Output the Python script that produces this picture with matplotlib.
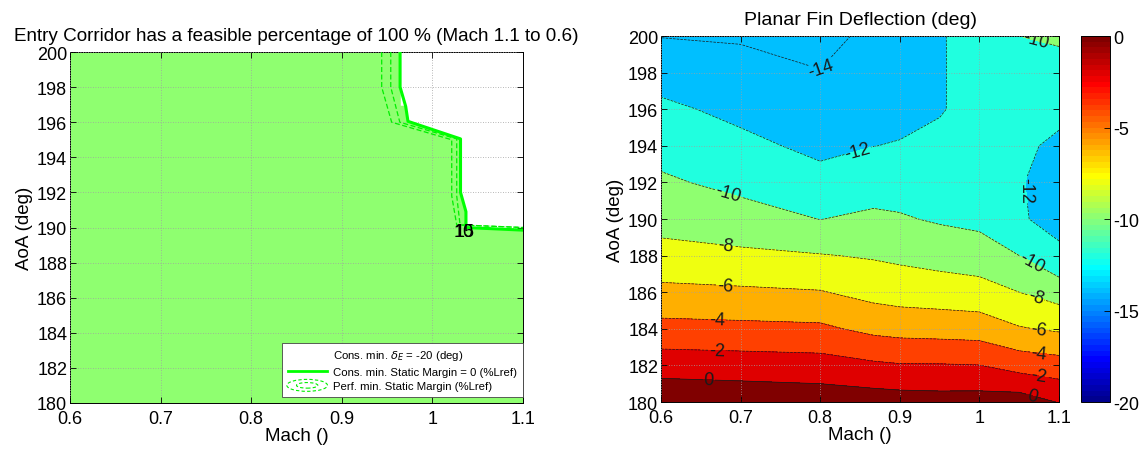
import numpy as np
import matplotlib
matplotlib.use("Agg")
import matplotlib.pyplot as plt
from matplotlib.lines import Line2D
from matplotlib.patches import Ellipse
from matplotlib.legend_handler import HandlerBase
from matplotlib.colors import ListedColormap, Normalize

plt.rcParams["font.family"] = ["Liberation Sans", "DejaVu Sans"]
plt.rcParams["axes.unicode_minus"] = False

# ---- left panel: feasible entry corridor ----
feas_mach = [0.6, 0.6, 0.9643, 0.9643, 0.9705, 0.973, 1.031, 1.031, 1.037, 1.037, 1.1, 1.1]
feas_aoa = [180, 200, 200, 196.9, 196.9, 196.05, 195.05, 192, 190.9, 190.0, 189.85, 180]

sm_mach = [0.9643, 0.9643, 0.9705, 0.973, 1.031, 1.031, 1.037, 1.037, 1.1]
sm_aoa = [200, 198, 196.9, 196.05, 195.05, 192, 190.9, 190.0, 189.85]

perf1_mach = [0.944, 0.944, 0.955, 1.0213, 1.0213, 1.0268, 1.1]
perf1_aoa = [200, 198, 196.0, 195.0, 191.8, 190.15, 190.0]
perf2_mach = [0.954, 0.954, 0.964, 1.0268, 1.0268, 1.0305, 1.1]
perf2_aoa = [200, 198, 196.0, 195.05, 191.8, 190.15, 190.0]

# ---- right panel: planar fin deflection (deg) ----
mach = [0.6, 0.7, 0.8, 0.867, 0.9, 0.95, 1.0, 1.05, 1.1]
aoa = [180, 182, 184, 186, 188, 190, 192, 194, 196, 198, 200]
fin_defl = [
    [1.6, 1.4, 1.18, 1.0, 0.9, 0.8, 0.86, 1.0, -0.1],
    [-0.88, -1.03, -1.18, -1.67, -1.86, -1.87, -1.97, -2.77, -3.15],
    [-3.38, -3.5, -3.63, -4.5, -4.71, -4.83, -4.96, -5.85, -6.27],
    [-5.5, -5.68, -5.89, -6.63, -6.86, -7.02, -7.22, -8.0, -8.88],
    [-7.36, -7.62, -7.9, -8.18, -8.39, -8.73, -9.05, -10.0, -11.6],
    [-8.68, -9.23, -10.03, -9.64, -9.81, -10.22, -10.5, -11.8, -12.6],
    [-9.71, -10.51, -11.41, -10.88, -10.88, -10.94, -11.2, -11.9, -12.6],
    [-10.68, -11.54, -12.43, -12.02, -11.9, -11.66, -11.5, -11.7, -12.3],
    [-11.62, -12.47, -13.18, -12.51, -12.5, -12.1, -11.5, -11.3, -11.6],
    [-12.77, -13.32, -13.93, -13.0, -13.0, -12.15, -11.3, -10.7, -10.5],
    [-14.06, -14.2, -14.67, -13.49, -13.3, -12.2, -11.0, -10.0, -9.8],
]
levels = [-14, -12, -10, -8, -6, -4, -2, 0]
label_pos = [(0.81, 197.9), (0.85, 193.3), (0.68, 190.7), (0.68, 188.0),
             (0.68, 186.0), (0.67, 184.1), (0.67, 182.4), (0.66, 181.0),
             (1.057, 191.6), (1.07, 188.0), (1.07, 185.6), (1.075, 184.0),
             (1.075, 182.7), (1.075, 181.4), (1.066, 180.3), (1.07, 199.6)]

xticks = [0.6, 0.7, 0.8, 0.9, 1.0, 1.1]
xticklabels = ["0.6", "0.7", "0.8", "0.9", "1", "1.1"]
yticks = list(range(180, 201, 2))


def matlab_jet(n=64):
    m = int(np.ceil(n / 4))
    u = np.concatenate([np.arange(1, m + 1) / m, np.ones(m - 1), np.arange(m, 0, -1) / m])
    g = int(np.ceil(m / 2)) - (1 if n % 4 == 1 else 0) + np.arange(1, len(u) + 1)
    r = g + m
    b = g - m
    J = np.zeros((n, 3))
    for idx, chan in ((r, 0), (g, 1), (b, 2)):
        ok = (idx >= 1) & (idx <= n)
        J[idx[ok] - 1, chan] = u[ok]
    return ListedColormap(J)


class HandlerEllipses(HandlerBase):
    def create_artists(self, legend, orig_handle, xdescent, ydescent,
                       width, height, fontsize, trans):
        cx = width / 2 - xdescent
        cy = height / 2 - ydescent
        arts = []
        for w, h in [(width * 1.05, height * 1.5), (width * 0.55, height * 0.7)]:
            e = Ellipse((cx, cy), w, h, fill=False, edgecolor="#00ee00",
                        linestyle=(0, (3, 2)), linewidth=0.8, transform=trans)
            arts.append(e)
        return arts


def style_axes(ax):
    ax.set_xlim(0.6, 1.1)
    ax.set_ylim(180, 200)
    ax.set_xticks(xticks)
    ax.set_xticklabels(xticklabels)
    ax.set_yticks(yticks)
    ax.tick_params(direction="in", top=True, right=True, labelsize=13, length=4, width=0.6, pad=2)
    ax.tick_params(axis="x", pad=5)
    ax.grid(True, linestyle=(0, (1, 2)), color="#a0a0a0", linewidth=0.6)
    ax.set_axisbelow(False)
    ax.set_xlabel("Mach ()", fontsize=13.5, labelpad=0)
    ax.set_ylabel("AoA (deg)", fontsize=13.5, labelpad=3)
    for s in ax.spines.values():
        s.set_linewidth(0.7)


cmap = matlab_jet(64)
norm = Normalize(vmin=-20, vmax=0)

fig = plt.figure(figsize=(11.46, 4.52), dpi=100)

# left panel
ax1 = fig.add_axes([0.0611, 0.1062, 0.3953, 0.7765])
ax1.fill(feas_mach, feas_aoa, color=cmap(norm(-10)), zorder=1)
ax1.plot(perf1_mach, perf1_aoa, color="#00ee00", lw=0.9, ls=(0, (4, 2)), zorder=3)
ax1.plot(perf2_mach, perf2_aoa, color="#00ee00", lw=0.9, ls=(0, (4, 2)), zorder=3)
ax1.plot(sm_mach, sm_aoa, color="#00ff00", lw=2.2, zorder=4)
ax1.text(1.035, 189.75, "15", fontsize=13, ha="center", va="center", zorder=5)
ax1.text(1.035, 189.75, "10", fontsize=13, ha="center", va="center", zorder=5)
style_axes(ax1)
ax1.set_title("Entry Corridor has a feasible percentage of 100 % (Mach 1.1 to 0.6)",
              fontsize=13.6, pad=9)

h0 = Line2D([], [], linestyle="none")
h1 = Line2D([], [], color="#00ff00", lw=2)
h2 = Line2D([], [], color="#00ee00")
leg = ax1.legend([h0, h1, h2],
                 [r"Cons. min. $\delta_E$ = -20 (deg)",
                  "Cons. min. Static Margin = 0 (%Lref)",
                  "Perf. min. Static Margin (%Lref)"],
                 handler_map={h2: HandlerEllipses()},
                 loc="lower right", bbox_to_anchor=(1.0, 0.017), borderaxespad=0,
                 fontsize=8.2, fancybox=False, framealpha=1, edgecolor="#444444",
                 borderpad=0.5, labelspacing=0.4, handlelength=3.4,
                 handletextpad=0.6)
leg.get_frame().set_linewidth(0.6)
leg.set_zorder(10)

# right panel
ax2 = fig.add_axes([0.5768, 0.1084, 0.3473, 0.8097])
fill_levels = [-16] + levels + [2]
band_colors = [cmap(norm(-14))] + [cmap(norm(v)) for v in levels]
X, Y = np.meshgrid(mach, aoa)
Z = np.array(fin_defl)
ax2.contourf(X, Y, Z, levels=fill_levels, colors=band_colors, zorder=1)
cs = ax2.contour(X, Y, Z, levels=levels, colors="#1a1a1a", linewidths=0.5, zorder=2)
ax2.clabel(cs, fmt="%d", fontsize=13, inline=True, inline_spacing=1, manual=label_pos)
style_axes(ax2)
ax2.set_title("Planar Fin Deflection (deg)", fontsize=14, pad=9)

cax = fig.add_axes([0.9433, 0.1084, 0.0253, 0.8097])
sm = matplotlib.cm.ScalarMappable(norm=norm, cmap=cmap)
cb = fig.colorbar(sm, cax=cax, ticks=[0, -5, -10, -15, -20])
cb.ax.tick_params(labelsize=13, direction="in", length=4, width=0.6, pad=2)
cb.outline.set_linewidth(0.7)

fig.savefig("out.png", dpi=100)
